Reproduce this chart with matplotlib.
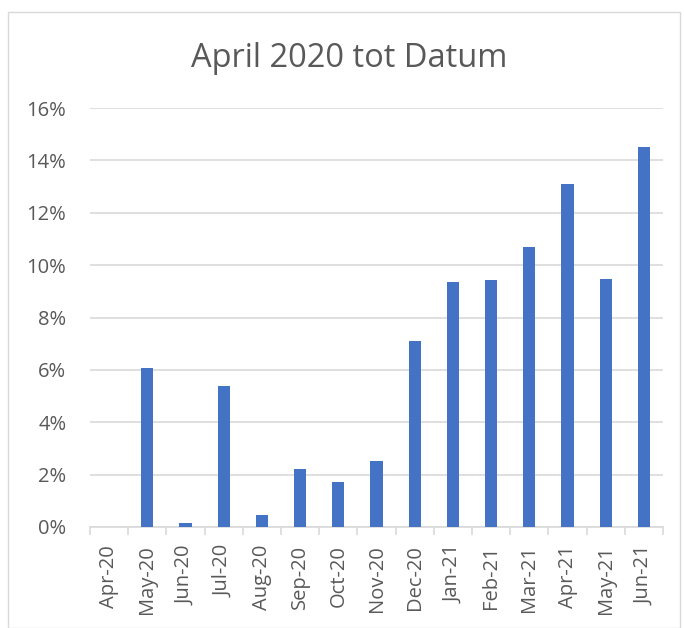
import numpy as np
import matplotlib.pyplot as plt
from matplotlib.ticker import PercentFormatter, FixedLocator
from matplotlib.patches import Rectangle

# Maanden en waarden (aandeel in %)
maanden = ["Apr-20", "May-20", "Jun-20", "Jul-20", "Aug-20", "Sep-20", "Oct-20",
           "Nov-20", "Dec-20", "Jan-21", "Feb-21", "Mar-21", "Apr-21", "May-21", "Jun-21"]
waarden = [0.0, 6.09, 0.15, 5.39, 0.46, 2.23, 1.72,
           2.51, 7.10, 9.36, 9.42, 10.68, 13.08, 9.46, 14.51]

plt.rcParams['font.family'] = ['Open Sans', 'DejaVu Sans']
grijs = '#595959'

fig = plt.figure(figsize=(6.84, 6.28), dpi=100)
ax = fig.add_axes([90/684, 1-527/628, (663-90)/684, (527-108)/628])

# rand om de grafiek
fig.patches.append(Rectangle((8/684, 0), 672/684, 1-12/628, transform=fig.transFigure,
                             fill=False, edgecolor='#d9d9d9', lw=1))

x = np.arange(len(maanden))
ax.bar(x, waarden, width=0.32, color='#4472C4', zorder=3)

ax.set_xlim(-0.5, len(maanden) - 0.5)
ax.set_ylim(0, 16)
ax.set_yticks(np.arange(0, 17, 2))
ax.yaxis.set_major_formatter(PercentFormatter(decimals=0))
ax.grid(axis='y', color='#d9d9d9', lw=1.2, zorder=0)

ax.set_xticks(x)
ax.set_xticklabels(maanden, rotation=90)
ax.xaxis.set_minor_locator(FixedLocator(np.arange(-0.5, len(maanden), 1)))
ax.tick_params(axis='x', which='major', length=0, pad=13, labelsize=14.5, labelcolor=grijs)
ax.tick_params(axis='x', which='minor', length=6, color='#d9d9d9', width=1.2)
ax.tick_params(axis='y', length=0, pad=17, labelsize=14.5, labelcolor=grijs)

for s in ['top', 'right', 'left']:
    ax.spines[s].set_visible(False)
ax.spines['bottom'].set_color('#d9d9d9')
ax.spines['bottom'].set_linewidth(1.2)

fig.text(349/684, 1-67/628, "April 2020 tot Datum", ha='center', va='baseline',
         fontsize=23.5, color=grijs)

fig.savefig("out.png", dpi=100)
